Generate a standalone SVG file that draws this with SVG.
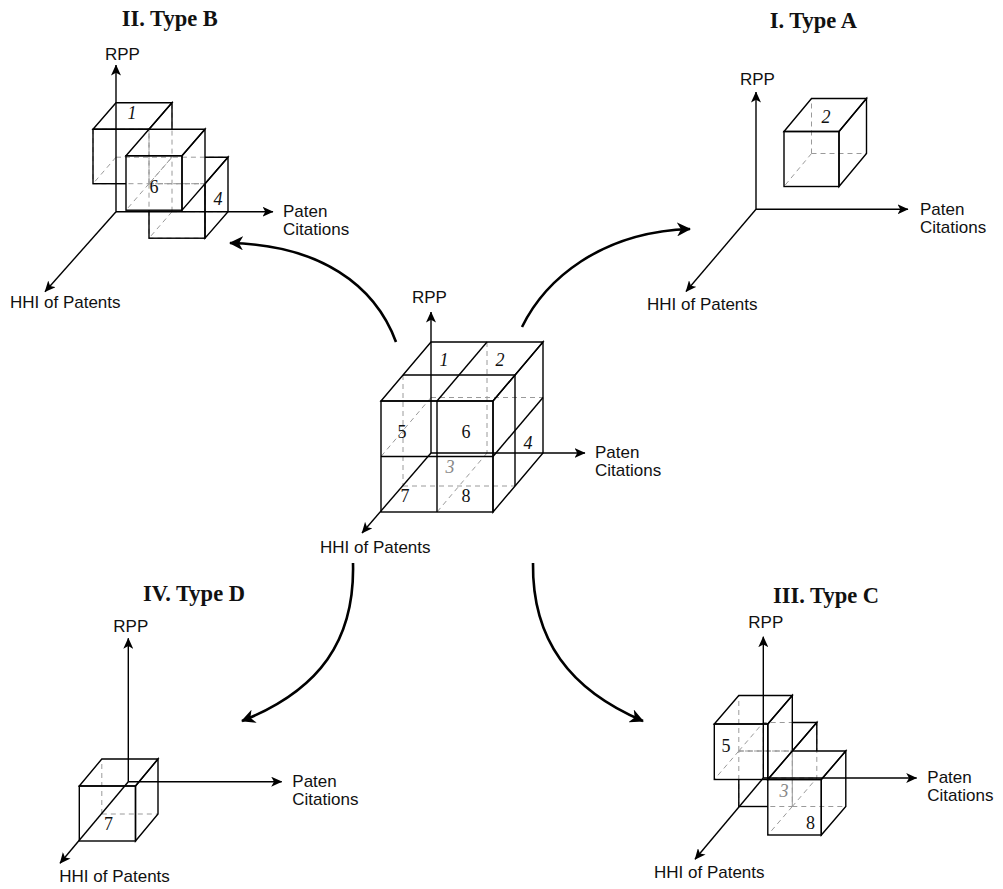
<svg xmlns="http://www.w3.org/2000/svg" width="1003" height="889" viewBox="0 0 1003 889">
<style>
.e{fill:none;stroke:#000;stroke-width:1.4;stroke-linejoin:miter}
.h{fill:none;stroke:#9a9a9a;stroke-width:1;stroke-dasharray:5,4}
.ax{fill:none;stroke:#000;stroke-width:1.4;marker-end:url(#ah)}
.cv{fill:none;stroke:#000;stroke-width:2.6;marker-end:url(#ch)}
.lbl{font-family:"Liberation Sans",Arial,sans-serif;font-size:17px;fill:#111}
.ttl{font-family:"Liberation Serif","Times New Roman",serif;font-size:22.5px;font-weight:bold;fill:#111}
.num{font-family:"Liberation Serif","Times New Roman",serif;font-size:18px;fill:#111;text-anchor:middle}
.it{font-style:italic}
.gr{fill:#888}
</style>
<defs>
<marker id="ah" viewBox="0 0 11 10" refX="10.5" refY="5" markerWidth="11" markerHeight="10" markerUnits="userSpaceOnUse" orient="auto"><path d="M0,0 L11,5 L0,10 L2.8,5 Z" fill="#000"/></marker>
<marker id="ch" viewBox="0 0 14 14" refX="13" refY="7" markerWidth="14" markerHeight="14" markerUnits="userSpaceOnUse" orient="auto"><path d="M0,0 L14,7 L0,14 L4,7 Z" fill="#000"/></marker>
<mask id="mB" maskUnits="userSpaceOnUse" x="0" y="0" width="1003" height="889"><rect width="1003" height="889" fill="#fff"/><polygon points="126,155.7 149,129.2 205,129.2 205,183.7 182,210.2 126,210.2" fill="#000"/></mask>
<mask id="mC" maskUnits="userSpaceOnUse" x="0" y="0" width="1003" height="889"><rect width="1003" height="889" fill="#fff"/><polygon points="714.3,724 738.8,695.5 792.3,695.5 792.3,751 767.8,779.5 714.3,779.5" fill="#000"/><polygon points="767.8,779.5 792.3,751 845.8,751 845.8,806.5 821.3,835 767.8,835" fill="#000"/></mask>
</defs>
<rect width="1003" height="889" fill="#fff"/>

<!-- Center cube -->
<g id="center">
  <g class="h">
    <line x1="487" y1="342" x2="487" y2="453"/>
    <line x1="431" y1="397.5" x2="543" y2="397.5"/>
    <line x1="403" y1="375" x2="403" y2="486"/>
    <line x1="431" y1="397.5" x2="381" y2="456.5"/>
    <line x1="403" y1="486" x2="515" y2="486"/>
    <line x1="487" y1="453" x2="437" y2="512"/>
  </g>
  <g class="e">
    <rect x="381" y="401" width="112" height="111"/>
    <line x1="437" y1="401" x2="437" y2="512"/>
    <line x1="381" y1="456.5" x2="493" y2="456.5"/>
    <polygon points="381,401 431,342 543,342 493,401"/>
    <line x1="403" y1="375" x2="515" y2="375"/>
    <line x1="437" y1="401" x2="487" y2="342"/>
    <polygon points="493,401 543,342 543,453 493,512"/>
    <line x1="515" y1="375" x2="515" y2="486"/>
    <line x1="493" y1="456.5" x2="543" y2="397.5"/>
  </g>
  <line class="ax" x1="431" y1="453" x2="431" y2="312"/>
  <line class="ax" x1="431" y1="453" x2="585" y2="453"/>
  <line class="ax" x1="431" y1="453" x2="362" y2="533"/>
  <text class="num it" x="444" y="366">1</text>
  <text class="num it" x="500" y="366">2</text>
  <text class="num" x="402" y="438">5</text>
  <text class="num" x="466" y="438">6</text>
  <text class="num it" x="528" y="449">4</text>
  <text class="num it gr" x="450" y="473">3</text>
  <text class="num" x="405" y="502">7</text>
  <text class="num" x="466" y="502">8</text>
  <text class="lbl" x="412" y="303">RPP</text>
  <text class="lbl" x="595" y="458">Paten</text>
  <text class="lbl" x="595" y="476">Citations</text>
  <text class="lbl" x="320" y="553">HHI of Patents</text>
</g>

<!-- Type A -->
<g id="typeA">
  <text class="ttl" x="857" y="28" text-anchor="end">I. Type A</text>
  <g class="h">
    <line x1="811.5" y1="153.5" x2="811.5" y2="98.5"/>
    <line x1="811.5" y1="153.5" x2="866.5" y2="153.5"/>
    <line x1="811.5" y1="153.5" x2="784" y2="186.5"/>
  </g>
  <g class="e">
    <rect x="784" y="131.5" width="55" height="55"/>
    <polygon points="784,131.5 811.5,98.5 866.5,98.5 839,131.5"/>
    <polygon points="839,131.5 866.5,98.5 866.5,153.5 839,186.5"/>
  </g>
  <text class="num it" x="826" y="123">2</text>
  <line class="ax" x1="756" y1="209.3" x2="756" y2="92"/>
  <line class="ax" x1="756" y1="209.3" x2="908" y2="209.3"/>
  <line class="ax" x1="756" y1="209.3" x2="686" y2="291.5"/>
  <text class="lbl" x="740" y="85">RPP</text>
  <text class="lbl" x="920" y="214.5">Paten</text>
  <text class="lbl" x="920" y="232.5">Citations</text>
  <text class="lbl" x="647" y="310">HHI of Patents</text>
</g>

<!-- Type B -->
<g id="typeB">
  <text class="ttl" x="121.7" y="26">II. Type B</text>
  <g class="h">
    <line x1="116" y1="157.2" x2="172" y2="157.2"/>
    <line x1="116" y1="157.2" x2="93" y2="183.7"/>
    <line x1="172" y1="211.7" x2="172" y2="157.2"/>
    <line x1="172" y1="211.7" x2="228" y2="211.7"/>
    <line x1="172" y1="211.7" x2="149" y2="238.2"/>
    <line x1="149" y1="183.7" x2="149" y2="129.2"/>
    <line x1="149" y1="183.7" x2="205" y2="183.7"/>
    <line x1="149" y1="183.7" x2="126" y2="210.2"/>
    <rect x="93" y="129.2" width="56" height="54.5"/>
    <polygon points="149,129.2 172,102.7 172,157.2 149,183.7"/>
    <rect x="149" y="183.7" width="56" height="54.5"/>
    <polygon points="149,183.7 172,157.2 228,157.2 205,183.7"/>
  </g>
  <g class="e" mask="url(#mB)">
    <rect x="93" y="129.2" width="56" height="54.5"/>
    <polygon points="93,129.2 116,102.7 172,102.7 149,129.2"/>
    <polygon points="149,129.2 172,102.7 172,157.2 149,183.7"/>
    <rect x="149" y="183.7" width="56" height="54.5"/>
    <polygon points="149,183.7 172,157.2 228,157.2 205,183.7"/>
    <polygon points="205,183.7 228,157.2 228,211.7 205,238.2"/>
  </g>
  <g class="e">
    <rect x="126" y="155.7" width="56" height="54.5"/>
    <polygon points="126,155.7 149,129.2 205,129.2 182,155.7"/>
    <polygon points="182,155.7 205,129.2 205,183.7 182,210.2"/>
  </g>
  <text class="num it" x="132" y="119">1</text>
  <text class="num" x="154" y="193">6</text>
  <text class="num it" x="218" y="205">4</text>
  <line class="ax" x1="116" y1="211.7" x2="116" y2="65"/>
  <line class="ax" x1="116" y1="211.7" x2="273" y2="211.7"/>
  <line class="ax" x1="116" y1="211.7" x2="45" y2="291.7"/>
  <text class="lbl" x="105" y="60">RPP</text>
  <text class="lbl" x="283" y="216.7">Paten</text>
  <text class="lbl" x="283" y="234.7">Citations</text>
  <text class="lbl" x="10" y="308">HHI of Patents</text>
</g>

<!-- Type D -->
<g id="typeD">
  <text class="ttl" x="245" y="601" text-anchor="end">IV. Type D</text>
  <g class="h">
    <line x1="101.8" y1="814" x2="101.8" y2="759"/>
    <line x1="101.8" y1="814" x2="158" y2="814"/>
  </g>
  <g class="e">
    <rect x="79.3" y="786" width="56.2" height="55"/>
    <polygon points="79.3,786 101.8,759 158,759 135.5,786"/>
    <polygon points="135.5,786 158,759 158,814 135.5,841"/>
  </g>
  <text class="num" x="108.5" y="830">7</text>
  <line class="ax" x1="128.3" y1="781.7" x2="128.3" y2="638.3"/>
  <line class="ax" x1="128.3" y1="781.7" x2="281.7" y2="781.7"/>
  <line class="ax" x1="128.3" y1="781.7" x2="60" y2="863.3"/>
  <text class="lbl" x="113.3" y="631.7">RPP</text>
  <text class="lbl" x="292.3" y="786.5">Paten</text>
  <text class="lbl" x="292.3" y="804.5">Citations</text>
  <text class="lbl" x="59.3" y="881.7">HHI of Patents</text>
</g>

<!-- Type C -->
<g id="typeC">
  <text class="ttl" x="773" y="603">III. Type C</text>
  <g class="h">
    <line x1="763.3" y1="778" x2="763.3" y2="722.5"/>
    <line x1="763.3" y1="778" x2="816.8" y2="778"/>
    <line x1="738.8" y1="751" x2="738.8" y2="695.5"/>
    <line x1="738.8" y1="751" x2="792.3" y2="751"/>
    <line x1="738.8" y1="751" x2="714.3" y2="779.5"/>
    <line x1="792.3" y1="806.5" x2="792.3" y2="751"/>
    <line x1="792.3" y1="806.5" x2="845.8" y2="806.5"/>
    <line x1="792.3" y1="806.5" x2="767.8" y2="835"/>
    <rect x="738.8" y="751" width="53.5" height="55.5"/>
    <polygon points="738.8,751 763.3,722.5 816.8,722.5 792.3,751"/>
    <polygon points="792.3,751 816.8,722.5 816.8,778 792.3,806.5"/>
  </g>
  <g class="e" mask="url(#mC)">
    <rect x="738.8" y="751" width="53.5" height="55.5"/>
    <polygon points="738.8,751 763.3,722.5 816.8,722.5 792.3,751"/>
    <polygon points="792.3,751 816.8,722.5 816.8,778 792.3,806.5"/>
  </g>
  <g class="e">
    <rect x="714.3" y="724" width="53.5" height="55.5"/>
    <polygon points="714.3,724 738.8,695.5 792.3,695.5 767.8,724"/>
    <polygon points="767.8,724 792.3,695.5 792.3,751 767.8,779.5"/>
    <rect x="767.8" y="779.5" width="53.5" height="55.5"/>
    <polygon points="767.8,779.5 792.3,751 845.8,751 821.3,779.5"/>
    <polygon points="821.3,779.5 845.8,751 845.8,806.5 821.3,835"/>
  </g>
  <text class="num" x="726" y="751.7">5</text>
  <text class="num it gr" x="784" y="797" font-size="15">3</text>
  <text class="num" x="810.5" y="829.3">8</text>
  <line class="ax" x1="763.3" y1="778" x2="763.3" y2="636.7"/>
  <line class="ax" x1="763.3" y1="778" x2="916.7" y2="778"/>
  <line class="ax" x1="763.3" y1="778" x2="695" y2="859.3"/>
  <text class="lbl" x="748.3" y="628.3">RPP</text>
  <text class="lbl" x="927.3" y="783">Paten</text>
  <text class="lbl" x="927.3" y="801">Citations</text>
  <text class="lbl" x="654" y="878.3">HHI of Patents</text>
</g>

<!-- Connectors -->
<g id="connectors">
  <path class="cv" d="M396,342 C375,285 320,245 230,243"/>
  <path class="cv" d="M522,327 C545,280 600,232 690,229"/>
  <path class="cv" d="M353,563 C355,640 320,690 242,721"/>
  <path class="cv" d="M533,563 C532,640 570,690 643,721"/>
</g>
</svg>
